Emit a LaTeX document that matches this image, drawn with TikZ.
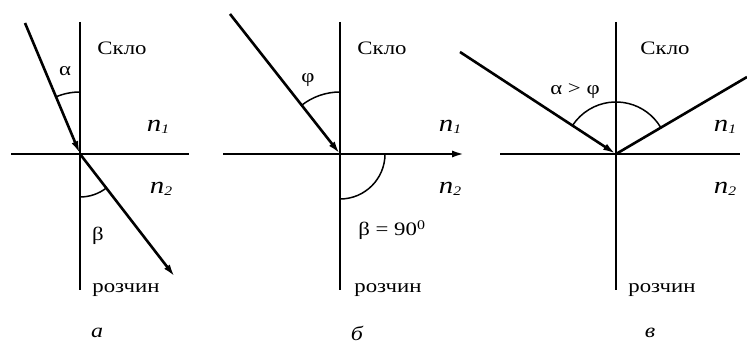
\documentclass[tikz,border=0pt]{standalone}
\usepackage{fontspec}
\setmainfont{Liberation Serif}
\usetikzlibrary{arrows.meta,calc}
\newcommand{\nsub}[1]{%
  {\fontsize{24}{26}\selectfont\textit{n}}\raisebox{-2.5pt}{\fontsize{13}{13}\selectfont\textit{#1}}%
}

\begin{document}
\begin{tikzpicture}[
  x=1pt, y=1pt,
  >={Latex[length=13pt,width=7pt]},
  font=\fontsize{19}{22}\selectfont,
  axis/.style={
    draw=black,
    line width=1.7pt
  },
  ray/.style={
    draw=black,
    line width=2.6pt
  },
  anglearc/.style={
    draw=black,
    line width=1.5pt
  },
  lab/.style={
    inner sep=1pt,
    transform shape,
    xscale=1.2
  },
  caption/.style={
    lab,
    font=\fontsize{20}{22}\selectfont\itshape
  }
]
\useasboundingbox (0,0) rectangle (747,344);

% Panel a
\coordinate (oa) at (80,190);
\coordinate (ta) at (80,322);
\coordinate (ba) at (80,54);
\coordinate (la) at (11,190);
\coordinate (ra) at (189,190);
\coordinate (ia) at (25,321);
\coordinate (fa) at (175,67);
\draw[axis] (ta) -- (ba);
\draw[axis] (la) -- (ra);
\draw[ray,->] (ia) -- (oa);
\draw[ray,->] (oa) -- (fa);
\draw[anglearc] ($(oa)+(90:62)$) arc[start angle=90, end angle=112.8, radius=62];
\draw[anglearc] ($(oa)+(270:43)$) arc[start angle=270, end angle=307.7, radius=43];
\node[lab] (glassa) at (122,296) {Скло};
\node[lab] (alphaa) at (65,273) {α};
\node[lab] (n1a) at (158,217) {\nsub{1}};
\node[lab] (n2a) at (161,155) {\nsub{2}};
\node[lab] (betaa) at (98,108) {β};
\node[lab] (sola) at (126,54) {розчин};
\node[caption] (capa) at (97,11) {а};

% Panel b
\coordinate (ob) at (340,190);
\coordinate (tb) at (340,322);
\coordinate (bb) at (340,54);
\coordinate (lb) at (223,190);
\coordinate (rb) at (465,190);
\coordinate (ib) at (230,330);
\draw[axis] (tb) -- (bb);
\draw[axis] (lb) -- (ob);
\draw[ray,->] (ob) -- (rb);
\draw[ray,->] (ib) -- (ob);
\draw[anglearc] ($(ob)+(90:62)$) arc[start angle=90, end angle=128.2, radius=62];
\draw[anglearc] ($(ob)+(270:45)$) arc[start angle=270, end angle=360, radius=45];
\node[lab] (glassb) at (382,296) {Скло};
\node[lab] (phib) at (308,264) {φ};
\node[lab] (n1b) at (450,217) {\nsub{1}};
\node[lab] (n2b) at (450,155) {\nsub{2}};
\node[lab] (betab) at (392,114) {β = 90\textsuperscript{0}};
\node[lab] (solb) at (388,54) {розчин};
\node[caption] (capb) at (357,11) {б};

% Panel c
\coordinate (oc) at (616,190);
\coordinate (tc) at (616,322);
\coordinate (bc) at (616,54);
\coordinate (lc) at (500,190);
\coordinate (rc) at (740,190);
\coordinate (ic) at (460,292);
\coordinate (fc) at (747,267);
\draw[axis] (tc) -- (bc);
\draw[axis] (lc) -- (rc);
\draw[ray,->] (ic) -- (oc);
\draw[ray] (oc) -- (fc);
\draw[anglearc] ($(oc)+(31:52)$) arc[start angle=31, end angle=146.5, radius=52];
\node[lab] (glassc) at (665,296) {Скло};
\node[lab] (relc) at (575,253) {α > φ};
\node[lab] (n1c) at (725,217) {\nsub{1}};
\node[lab] (n2c) at (725,155) {\nsub{2}};
\node[lab] (solc) at (662,54) {розчин};
\node[caption] (capc) at (650,11) {в};

\end{tikzpicture}
\end{document}
